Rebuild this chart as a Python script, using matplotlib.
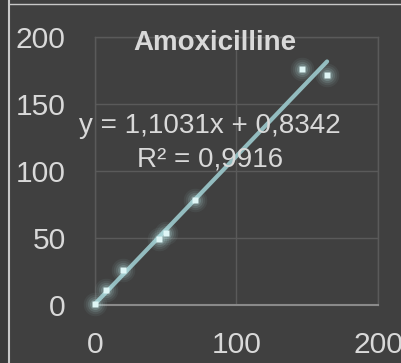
import numpy as np
import matplotlib
matplotlib.use('Agg')
import matplotlib.pyplot as plt
from matplotlib.lines import Line2D

plt.rcParams['font.family'] = ['Liberation Sans', 'DejaVu Sans']

# data
conc_x = [0, 7.5, 20, 45, 50, 71, 146, 164]
resp_y = [1, 11, 26, 49, 54, 78, 176, 172]
slope = 1.1031
intercept = 0.8342
r2 = 0.9916
title = "Amoxicilline"
xticks = [0, 100, 200]
yticks = [0, 50, 100, 150, 200]

bg = '#404040'
txt = '#d9d9d9'
gridc = '#5a5a5a'

fig = plt.figure(figsize=(4.02, 3.63), dpi=100, facecolor=bg)
ax = fig.add_axes([95/402, 1-305/363, 283/402, 268/363])
ax.set_facecolor(bg)

# frame lines of the chart area
fig.add_artist(Line2D([8.5/402, 8.5/402], [0, 1], color='#c8c8c8', lw=1.5))
fig.add_artist(Line2D([8.5/402, 1], [1-3.5/363, 1-3.5/363], color='#c8c8c8', lw=1.0))
fig.add_artist(plt.Rectangle((0, 0), 7.5/402, 1, color='#3a3a3a', transform=fig.transFigure, zorder=-1))

ax.set_xlim(0, 200)
ax.set_ylim(0, 200)
ax.set_xticks(xticks)
ax.set_yticks(yticks)
ax.grid(True, color=gridc, lw=1.0)
ax.set_axisbelow(True)
for s in ['left', 'top', 'right']:
    ax.spines[s].set_color(gridc)
    ax.spines[s].set_linewidth(1.0)
ax.spines['bottom'].set_color('#8a8a8a')
ax.spines['bottom'].set_linewidth(1.5)
ax.tick_params(length=0, colors=txt, labelsize=21.6)
ax.tick_params(axis='y', pad=21)
ax.tick_params(axis='x', pad=19)

# trendline
xx = np.array([min(conc_x), max(conc_x)])
ax.plot(xx, slope*xx + intercept, color='#93bcbf', lw=3, solid_capstyle='round', zorder=3, clip_on=False)

# glowing markers
for ms, a in [(17, 0.06), (14, 0.08), (11, 0.12), (8, 0.18)]:
    ax.plot(conc_x, resp_y, 'o', ms=ms, color='#bfeeee', alpha=a, mec='none', zorder=4, clip_on=False)
ax.plot(conc_x, resp_y, 's', ms=4.5, color='#dff6f6', mec='none', zorder=5, clip_on=False)

fig.text(215/402, 1-50/363, title, color=txt, fontsize=20, fontweight='bold', ha='center', va='baseline')
fig.text(210/402, 1-133/363, "y = {}x + {}".format(str(slope).replace('.', ','), str(intercept).replace('.', ',')),
         color=txt, fontsize=20, ha='center', va='baseline')
fig.text(210/402, 1-167/363, "R² = {}".format(str(r2).replace('.', ',')),
         color=txt, fontsize=20, ha='center', va='baseline')

fig.savefig('out.png', dpi=100, facecolor=bg)
